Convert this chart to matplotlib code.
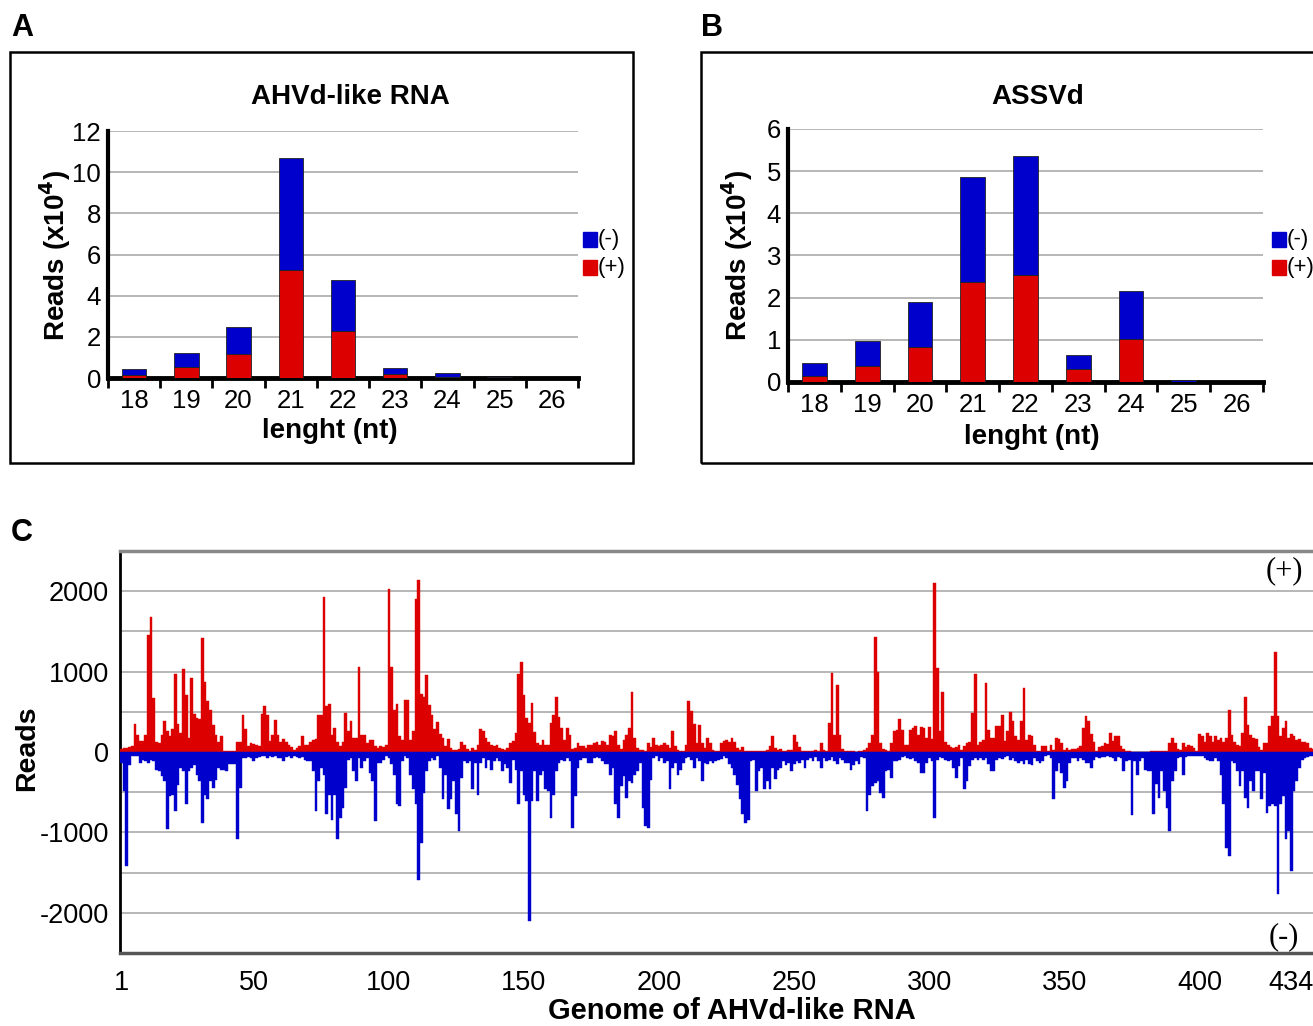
import matplotlib
matplotlib.use('Agg')
import matplotlib.pyplot as plt
import numpy as np
from matplotlib.patches import Rectangle

plt.rcParams['font.family'] = ['Liberation Sans', 'DejaVu Sans']
plt.rcParams['axes.unicode_minus'] = False

RED = '#dd0000'
BLUE = '#0000cc'

# ---- panels A / B: read length distribution (x10^4 reads)
lengths = [18, 19, 20, 21, 22, 23, 24, 25, 26]
ahvd_plus = [0.16, 0.54, 1.17, 5.23, 2.27, 0.18, 0.03, 0.01, 0.0]
ahvd_minus = [0.30, 0.69, 1.31, 5.46, 2.50, 0.31, 0.22, 0.06, 0.0]
assvd_plus = [0.14, 0.38, 0.82, 2.38, 2.54, 0.30, 1.03, 0.01, 0.0]
assvd_minus = [0.31, 0.60, 1.08, 2.49, 2.83, 0.34, 1.13, 0.04, 0.0]

# ---- panel C: reads per genome position
plus_reads = [
    # 1-44
    40, 50, 50, 60, 80, 350, 215, 140, 140, 215, 1450, 1680, 675, 130, 110, 215, 380, 265, 195, 290, 965, 350,
    235, 1030, 705, 175, 925, 475, 425, 410, 1420, 865, 640, 525, 340, 215, 130, 195, 10, 10, 15, 15, 15, 130,
    # 45-91
    130, 455, 290, 70, 110, 100, 90, 70, 475, 570, 465, 140, 215, 395, 215, 130, 160, 130, 90, 60, 20, 50, 70,
    195, 90, 85, 130, 155, 165, 455, 465, 1930, 570, 600, 215, 300, 130, 70, 130, 480, 255, 390, 175, 175, 1060,
    215, 215,
    # 92-137
    110, 145, 145, 70, 50, 70, 60, 85, 2030, 1060, 525, 600, 200, 155, 650, 650, 155, 265, 1900, 2140, 720, 690,
    955, 590, 455, 290, 370, 225, 175, 70, 165, 50, 30, 30, 40, 130, 85, 40, 15, 50, 30, 85, 285, 265, 175, 130,
    # 138-184
    85, 70, 85, 50, 40, 30, 50, 110, 140, 235, 965, 1125, 705, 425, 360, 610, 250, 110, 90, 155, 85, 90, 360,
    465, 690, 440, 300, 155, 300, 215, 40, 50, 110, 70, 70, 50, 85, 90, 110, 130, 90, 140, 130, 90, 215, 195, 255,
    # 185-230
    90, 40, 155, 215, 300, 745, 175, 50, 30, 30, 15, 110, 60, 175, 85, 70, 85, 110, 90, 50, 265, 70, 30, 15, 15,
    90, 630, 515, 350, 110, 340, 110, 50, 180, 110, 30, 15, 10, 110, 140, 155, 130, 180, 130, 50, 30,
    # 231-277
    60, 15, 10, 10, 15, 10, 10, 15, 15, 30, 70, 200, 50, 30, 40, 10, 15, 30, 30, 215, 130, 60, 15, 10, 10, 15,
    15, 30, 15, 110, 30, 15, 360, 980, 215, 830, 215, 40, 15, 15, 10, 10, 5, 10, 15, 30, 50,
    # 278-323
    110, 215, 1435, 990, 110, 40, 30, 15, 110, 265, 275, 415, 275, 90, 85, 275, 300, 320, 215, 310, 300, 175,
    310, 165, 2100, 1040, 265, 750, 130, 85, 60, 50, 60, 85, 30, 70, 110, 120, 485, 975, 90, 130, 155, 860, 275, 175,
    # 324-370
    175, 320, 320, 455, 140, 255, 500, 380, 195, 155, 390, 790, 155, 215, 195, 85, 10, 15, 70, 70, 15, 85, 30,
    175, 165, 110, 30, 50, 30, 40, 40, 50, 70, 300, 445, 390, 225, 130, 15, 60, 70, 110, 100, 235, 140, 195, 195,
    # 371-405
    70, 40, 15, 10, 5, 5, 5, 5, 5, 5, 5, 15, 15, 10, 15, 10, 15, 10, 110, 175, 110, 40, 30, 110, 60, 90, 70, 50,
    15, 225, 205, 130, 235, 205, 130,
    # 406-443
    195, 155, 175, 130, 175, 525, 215, 130, 90, 70, 235, 680, 340, 215, 175, 165, 60, 30, 110, 110, 320, 445,
    1240, 445, 195, 300, 380, 175, 225, 205, 155, 165, 130, 130, 110, 50, 40, 85,
]

minus_reads = [
    # 1-44
    -135, -490, -1415, -165, -55, -55, -55, -135, -95, -115, -135, -95, -115, -220, -240, -300, -355, -960, -550,
    -530, -735, -405, -200, -240, -650, -240, -200, -165, -280, -365, -880, -530, -590, -365, -445, -345, -200,
    -220, -220, -240, -155, -155, -155, -1085,
    # 45-91
    -445, -75, -75, -65, -75, -115, -80, -65, -55, -55, -75, -55, -65, -55, -75, -75, -115, -65, -55, -75, -55,
    -65, -75, -65, -95, -115, -115, -240, -735, -365, -200, -280, -775, -530, -840, -530, -1085, -820, -695,
    -445, -95, -75, -240, -365, -75, -200, -115,
    # 92-137
    -75, -260, -365, -860, -135, -135, -95, -55, -75, -150, -280, -650, -675, -115, -55, -75, -280, -465, -650,
    -1595, -1130, -510, -240, -115, -75, -95, -55, -200, -590, -280, -715, -590, -365, -775, -985, -320, -115,
    -135, -115, -465, -135, -530, -135, -75, -200, -95,
    # 138-184
    -230, -115, -75, -115, -240, -155, -200, -385, -95, -220, -650, -240, -530, -610, -2100, -610, -240, -610,
    -280, -240, -465, -490, -820, -530, -240, -135, -95, -115, -75, -115, -940, -550, -200, -95, -75, -75, -135,
    -135, -75, -65, -75, -115, -150, -150, -280, -200, -650,
    # 185-230
    -820, -425, -300, -570, -365, -385, -280, -240, -135, -695, -920, -940, -345, -75, -55, -115, -75, -135,
    -115, -465, -200, -135, -280, -230, -135, -75, -65, -95, -205, -75, -115, -365, -135, -150, -115, -135, -115,
    -95, -85, -55, -75, -155, -200, -280, -405, -590,
    # 231-277
    -775, -880, -840, -115, -95, -490, -240, -200, -465, -365, -465, -200, -330, -230, -200, -115, -165, -135,
    -240, -155, -115, -135, -95, -205, -105, -75, -115, -65, -115, -200, -75, -115, -95, -65, -115, -150, -75,
    -95, -135, -135, -220, -165, -115, -155, -65, -75, -735,
    # 278-323
    -530, -425, -385, -355, -510, -570, -240, -220, -320, -115, -115, -95, -65, -55, -75, -85, -75, -115, -135,
    -260, -260, -135, -75, -115, -825, -95, -65, -75, -95, -115, -95, -200, -320, -180, -75, -465, -365, -180,
    -95, -75, -95, -75, -95, -75, -155, -240,
    # 324-370
    -240, -95, -75, -85, -65, -55, -95, -75, -115, -135, -115, -155, -95, -150, -165, -75, -115, -135, -115, -55,
    -35, -75, -590, -240, -135, -260, -445, -365, -135, -75, -75, -115, -75, -95, -135, -135, -200, -95, -65,
    -75, -65, -65, -55, -65, -75, -115, -65,
    # 371-405
    -75, -240, -115, -95, -785, -115, -280, -115, -75, -220, -240, -240, -770, -400, -570, -240, -490, -695,
    -985, -365, -240, -75, -65, -280, -65, -55, -55, -55, -55, -55, -55, -75, -105, -115, -115,
    # 406-443
    -75, -115, -280, -650, -1190, -1295, -115, -135, -240, -425, -240, -570, -695, -365, -490, -240, -240, -590,
    -260, -755, -675, -650, -675, -1760, -650, -550, -1085, -985, -1480, -490, -365, -200, -95, -75, -65, -55,
    -55, -35,
]
genome_ticks = [1, 50, 100, 150, 200, 250, 300, 350, 400, 434]

W, H = 1313, 1026
fig = plt.figure(figsize=(W / 100, H / 100), dpi=100)


def frect(x0, y0, x1, y1):
    # pixel box (top-left origin) -> figure fraction rect
    return [x0 / W, 1 - y1 / H, (x1 - x0) / W, (y1 - y0) / H]


def ftext(x, y, s, **kw):
    fig.text(x / W, 1 - y / H, s, **kw)


def box(x0, y0, x1, y1):
    fig.patches.append(Rectangle((x0 / W, 1 - y1 / H), (x1 - x0) / W, (y1 - y0) / H,
                                 transform=fig.transFigure, fill=False, ec='black', lw=1.8))


def length_panel(rect, plus, minus, ymax, leg_x):
    ax = fig.add_axes(rect)
    x = np.arange(len(lengths))
    ax.bar(x, plus, 0.47, color=RED, ec='#222222', lw=0.6, zorder=3)
    ax.bar(x, minus, 0.47, bottom=plus, color=BLUE, ec='#222222', lw=0.6, zorder=3)
    ax.set_xlim(-0.5, len(lengths) - 0.5)
    ax.set_ylim(0, ymax)
    ax.set_yticks(np.arange(0, ymax + 1, 2 if ymax > 6 else 1))
    ax.yaxis.grid(True, color='#aaaaaa', lw=1.2)
    ax.set_axisbelow(True)
    for s in ['top', 'right']:
        ax.spines[s].set_visible(False)
    ax.spines['left'].set_linewidth(3)
    ax.spines['bottom'].set_linewidth(3.5)
    ax.set_xticks(x, [str(v) for v in lengths])
    ax.set_xticks(np.arange(-0.5, len(lengths)), minor=True)
    ax.tick_params(axis='x', which='major', length=0, pad=8, labelsize=18.5)
    ax.tick_params(axis='x', which='minor', length=7, width=2, direction='out')
    ax.tick_params(axis='y', length=0, pad=5, labelsize=18.5)
    # legend squares
    for yy, c, lab in [(240, BLUE, '(-)'), (268, RED, '(+)')]:
        fig.patches.append(Rectangle((leg_x / W, 1 - (yy + 7) / H), 14 / W, 15 / H,
                                     transform=fig.transFigure, color=c))
        ftext(leg_x + 15, yy, lab, fontsize=16, va='center', ha='left')
    return ax


# panel A
box(10, 52, 633, 463)
length_panel(frect(108, 131, 578, 378), ahvd_plus, ahvd_minus, 12, 583)
ftext(22, 28, 'A', fontsize=22, fontweight='bold', ha='center', va='center')
ftext(350, 97, 'AHVd-like RNA', fontsize=20, fontweight='bold', ha='center', va='center')
ftext(55, 255, 'Reads (x10$^{\\mathbf{4}}$)', fontsize=20, fontweight='bold', ha='center', va='center',
      rotation=90)
ftext(330, 431, 'lenght (nt)', fontsize=20, fontweight='bold', ha='center', va='center')

# panel B
box(701, 52, 1330, 463)
length_panel(frect(788, 129, 1263, 382), assvd_plus, assvd_minus, 6, 1272)
ftext(712, 28, 'B', fontsize=22, fontweight='bold', ha='center', va='center')
ftext(1038, 97, 'ASSVd', fontsize=20, fontweight='bold', ha='center', va='center')
ftext(737, 255, 'Reads (x10$^{\\mathbf{4}}$)', fontsize=20, fontweight='bold', ha='center', va='center',
      rotation=90)
ftext(1032, 437, 'lenght (nt)', fontsize=20, fontweight='bold', ha='center', va='center')

# panel C
axc = fig.add_axes(frect(120, 551, 1313, 953))
pos = np.arange(1, len(plus_reads) + 1)
axc.bar(pos, plus_reads, 1.0, color=RED, ec=RED, lw=0.3, zorder=3)
axc.bar(np.arange(1, len(minus_reads) + 1), minus_reads, 1.0, color=BLUE, ec=BLUE, lw=0.3, zorder=3)
axc.set_xlim(0.5, 442.0)
axc.set_ylim(-2500, 2500)
axc.set_yticks(np.arange(-2000, 2001, 1000))
axc.set_yticks(np.arange(-2500, 2501, 500), minor=True)
axc.yaxis.grid(True, which='both', color='#aaaaaa', lw=1.2)
axc.set_axisbelow(True)
axc.set_xticks(genome_ticks, [str(t) for t in genome_ticks])
axc.tick_params(axis='x', length=0, pad=12, labelsize=19.5)
axc.tick_params(axis='y', which='both', length=0, pad=8, labelsize=19.5)
axc.spines['right'].set_visible(False)
axc.spines['left'].set_linewidth(2)
axc.spines['top'].set_color('#888888')
axc.spines['top'].set_linewidth(2.5)
axc.spines['bottom'].set_color('#555555')
axc.spines['bottom'].set_linewidth(2.5)
ftext(22, 533, 'C', fontsize=22, fontweight='bold', ha='center', va='center')
ftext(27, 748, 'Reads', fontsize=20.5, fontweight='bold', ha='center', va='center', rotation=90)
ftext(732, 1011, 'Genome of AHVd-like RNA', fontsize=21, fontweight='bold', ha='center', va='center')
ftext(1284, 571, '(+)', fontsize=22, family='Liberation Serif', ha='center', va='center')
ftext(1284, 937, '(-)', fontsize=22, family='Liberation Serif', ha='center', va='center')

fig.savefig('out.png', dpi=100)
